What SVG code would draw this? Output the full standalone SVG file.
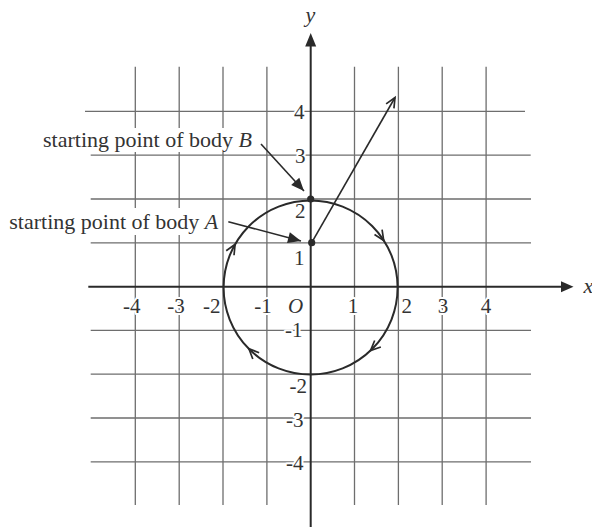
<svg xmlns="http://www.w3.org/2000/svg" width="592" height="527" viewBox="0 0 592 527">
<style>
.grid{stroke:#6e6e6e;stroke-width:1.3;fill:none}
.axis{stroke:#2a2a2a;stroke-width:2;fill:none}
.curve{stroke:#2a2a2a;stroke-width:2;fill:none}
.ln{stroke:#2a2a2a;stroke-width:1.6;fill:none}
text{font-family:"Liberation Serif","Times New Roman",serif;fill:#333}
.num{font-size:21px;stroke:#fff;stroke-width:4;paint-order:stroke;stroke-linejoin:round}
.lbl{font-size:22px}
.it{font-style:italic}
</style>
<defs>
<marker id="open" markerUnits="userSpaceOnUse" viewBox="-12 -7 14 14" markerWidth="14" markerHeight="14" refX="0" refY="0" orient="auto">
<path d="M-10,-4.5 L0,0 L-10,4.5" fill="none" stroke="#2a2a2a" stroke-width="1.7"/>
</marker>
<marker id="solid" markerUnits="userSpaceOnUse" viewBox="-15 -7 17 14" markerWidth="17" markerHeight="14" refX="0" refY="0" orient="auto">
<path d="M-13,-5.5 L0,0 L-13,5.5 Z" fill="#2a2a2a"/>
</marker>
</defs>
<rect width="592" height="527" fill="#fff"/>
<g id="grid" class="grid">
<path d="M135.3,66.7V505M179.2,66.7V505M223,66.7V505M266.9,66.7V505M354.5,66.7V505M398.4,66.7V505M442.2,66.7V505M486.1,66.7V505"/>
<path d="M85,111.3H525M90.7,155.2H530.7M90.7,199H531M90.7,242.8H531M90.7,330.4H531M90.7,374.2H531M90.7,418H531M90.7,461.8H531"/>
</g>
<g id="label-backgrounds" fill="#fff">
<rect x="40" y="128" width="218" height="24"/>
<rect x="7" y="208" width="215" height="27"/>
</g>
<g id="tick-labels">
<text class="num" x="131.7" y="312.5" text-anchor="middle">-4</text>
<text class="num" x="176" y="312.5" text-anchor="middle">-3</text>
<text class="num" x="211.7" y="312.5" text-anchor="middle">-2</text>
<text class="num" x="263" y="312.5" text-anchor="middle">-1</text>
<text class="num it" x="295.5" y="312.5" text-anchor="middle">O</text>
<text class="num" x="353" y="312.5" text-anchor="middle">1</text>
<text class="num" x="406.7" y="312.5" text-anchor="middle">2</text>
<text class="num" x="443" y="312.5" text-anchor="middle">3</text>
<text class="num" x="486" y="312.5" text-anchor="middle">4</text>
<text class="num" x="304.5" y="119" text-anchor="end">4</text>
<text class="num" x="305.5" y="163" text-anchor="end">3</text>
<text class="num" x="305.5" y="218" text-anchor="end">2</text>
<text class="num" x="304.5" y="265" text-anchor="end">1</text>
<text class="num" x="302.5" y="337" text-anchor="end">-1</text>
<text class="num" x="307" y="393" text-anchor="end">-2</text>
<text class="num" x="303.5" y="427" text-anchor="end">-3</text>
<text class="num" x="303.5" y="470" text-anchor="end">-4</text>
</g>
<g id="axes">
<path class="axis" d="M310.7,527V46"/>
<polygon points="310.7,33 305.2,46.5 316.2,46.5" fill="#2a2a2a"/>
<path class="axis" d="M88.3,286.7H562"/>
<polygon points="573.5,286.7 561,281.2 561,292.2" fill="#2a2a2a"/>
<text class="lbl it" x="310.5" y="21.5" text-anchor="middle">y</text>
<text class="lbl it" x="583.5" y="293">x</text>
</g>
<g id="circle-path">
<circle class="curve" cx="310.6" cy="287.5" r="87"/>
</g>
<g id="point-B">
<circle cx="310.7" cy="199" r="3.6" fill="#2a2a2a"/>
<text class="lbl" x="43" y="146.7">starting point of body <tspan class="it">B</tspan></text>
</g>
<g id="point-A">
<circle cx="311.7" cy="242.7" r="3.6" fill="#2a2a2a"/>
<text class="lbl" x="9.3" y="229.3">starting point of body <tspan class="it">A</tspan></text>
</g>
<g id="connectors">
<path class="ln" d="M383.16,239.56 L383.7,240.4" marker-end="url(#open)"/>
<path class="ln" d="M371.23,349.91 L370.5,350.6" marker-end="url(#open)"/>
<path class="ln" d="M249.6,349.5 L248.9,348.8" marker-end="url(#open)"/>
<path class="ln" d="M234.6,245.17 L235.1,244.3" marker-end="url(#open)"/>
<path class="ln" d="M311.7,242.7 L395,97.5" marker-end="url(#open)"/>
<path class="ln" d="M261,144 L304,191" marker-end="url(#solid)"/>
<path class="ln" d="M228.3,221.7 L301,241" marker-end="url(#solid)"/>
</g>
</svg>
